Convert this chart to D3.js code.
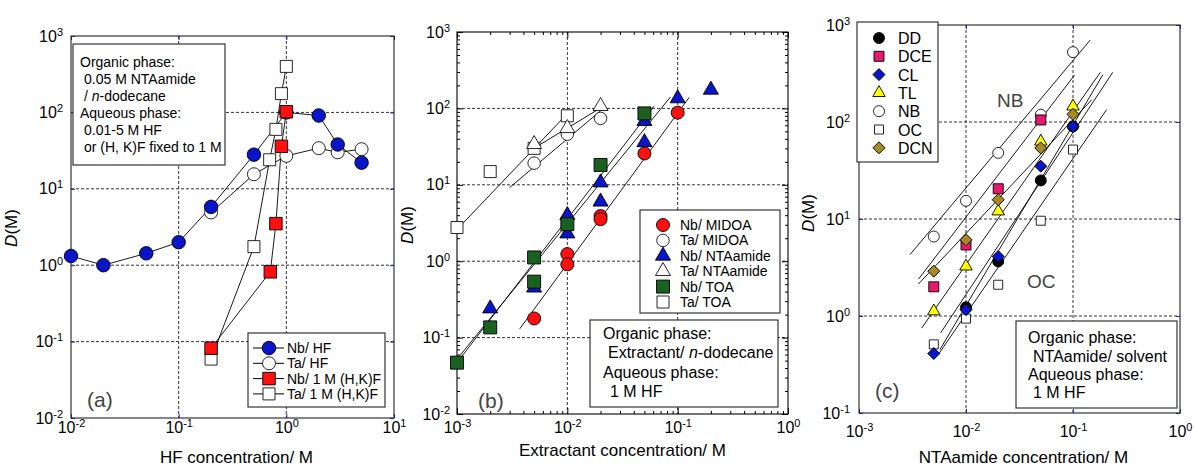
<!DOCTYPE html>
<html><head><meta charset="utf-8">
<script src="https://cdn.jsdelivr.net/npm/d3@7"></script>
<style>
body{margin:0;background:#fff;}
svg{font-family:"Liberation Sans",Arial,sans-serif;}
</style></head><body>
<svg width="1195" height="468"></svg>
<script>
"use strict";

var svg = d3.select("svg");

// ---- panel (a): D vs HF concentration
const aNbHfX = [0.01, 0.02, 0.05, 0.1, 0.2, 0.5, 1, 2, 3, 5],
      aNbHfD = [1.32, 1.0, 1.43, 2.0, 5.8, 28, 100, 91, 38, 22],
      aTaHfX = [0.2, 0.5, 1, 2, 3, 5],
      aTaHfD = [4.9, 15.5, 27, 34, 30, 33],
      aNbHkX = [0.2, 0.71, 0.8, 0.9, 1.0],
      aNbHkD = [0.082, 0.82, 3.5, 36, 102],
      aTaHkX = [0.2, 0.5, 0.7, 0.8, 0.9, 1.0],
      aTaHkD = [0.059, 1.75, 24, 60, 176, 400];

// ---- panel (b): D vs extractant concentration
const bNbMidoaX = [0.005, 0.01, 0.01, 0.02, 0.02, 0.05, 0.1],
      bNbMidoaD = [0.178, 1.24, 0.91, 3.9, 3.55, 25.7, 88],
      bTaMidoaX = [0.005, 0.01, 0.02],
      bTaMidoaD = [19.2, 46, 74],
      bNbNtaX = [0.002, 0.005, 0.01, 0.01, 0.02, 0.02, 0.05, 0.05, 0.1, 0.2],
      bNbNtaD = [0.24, 0.45, 2.3, 4.0, 6.0, 10.7, 36, 68, 135, 175],
      bTaNtaX = [0.005, 0.01, 0.02],
      bTaNtaD = [34, 55, 107],
      bNbToaX = [0.001, 0.002, 0.005, 0.005, 0.01, 0.02, 0.05],
      bNbToaD = [0.047, 0.136, 1.12, 0.54, 3.05, 18.2, 86],
      bTaToaX = [0.001, 0.002, 0.005, 0.01],
      bTaToaD = [2.76, 14.9, 30, 80];
// fitted lines, [x start, x end] / [D start, D end]
const bFitX = [[0.001, 0.0099], [0.0044, 0.022], [0.003, 0.02], [0.001, 0.061], [0.00106, 0.086], [0.0037, 0.127]],
      bFitD = [[2.6, 84], [27, 110], [9.2, 93], [0.047, 107], [0.058, 141], [0.13, 139]];

// ---- panel (c): D vs NTAamide concentration in various solvents
const cSolvents = ["DD", "DCE", "CL", "TL", "NB", "OC", "DCN"];
const cDDX = [0.01, 0.02, 0.05, 0.1],          cDDD = [1.23, 3.65, 25, 90],
      cDCEX = [0.005, 0.01, 0.02, 0.05],       cDCED = [2.0, 5.4, 20.5, 105],
      cCLX = [0.005, 0.01, 0.02, 0.05, 0.1],   cCLD = [0.41, 1.16, 4.1, 35, 90],
      cTLX = [0.005, 0.01, 0.02, 0.05, 0.1],   cTLD = [1.12, 3.25, 12, 63, 145],
      cNBX = [0.005, 0.01, 0.02, 0.05, 0.1],   cNBD = [6.6, 15.4, 48, 119, 525],
      cOCX = [0.005, 0.01, 0.02, 0.05, 0.1],   cOCD = [0.51, 0.94, 2.1, 9.6, 52],
      cDCNX = [0.005, 0.01, 0.02, 0.05, 0.1],  cDCND = [2.9, 6.1, 15.8, 54, 120];
const cFitX = [[0.003, 0.145], [0.0036, 0.103], [0.0036, 0.15], [0.00385, 0.18], [0.0057, 0.19], [0.0058, 0.235], [0.0055, 0.206]],
      cFitD = [[4.3, 700], [2.4, 303], [2.14, 170], [0.75, 325], [0.45, 307], [0.67, 325], [0.4, 134]];

const BLUE = "#0a14c8", RED = "#ff1010", GREEN = "#1a6020",
      PINK = "#e8196a", YELLOW = "#ffff00", OLIVE = "#a88a22";

function symbolPath(type, s) {
  if (type === "circle") return d3.symbol(d3.symbolCircle, Math.PI * s * s / 4)();
  if (type === "square") return d3.symbol(d3.symbolSquare, s * s)();
  if (type === "triangle") return d3.symbol(d3.symbolTriangle, s * s * Math.sqrt(3) / 4)();
  return d3.symbol(d3.symbolSquare, s * s / 2)(); // diamond, rotated below
}

function mark(g, type, cx, cy, s, fill) {
  g.append("path")
    .attr("d", symbolPath(type, s))
    .attr("transform", "translate(" + cx + "," + cy + ")" + (type === "diamond" ? " rotate(45)" : ""))
    .attr("fill", fill)
    .attr("stroke", fill === "#fff" ? "#111" : "#000")
    .attr("stroke-width", 0.9);
}

function supLabels(sel) {
  sel.selectAll(".tick text").each(function(d) {
    const e = Math.round(Math.log10(d)),
          t = d3.select(this).text(null);
    t.append("tspan").text("10");
    t.append("tspan").attr("dy", -6).attr("font-size", 11).text(e < 0 ? "-" + (-e) : e);
  });
}

function panel(o) {
  const x = d3.scaleLog().domain(o.xd).range([o.l, o.r]),
        y = d3.scaleLog().domain(o.yd).range([o.b, o.t]);
  const g = svg.append("g");
  const xMaj = d3.range(Math.log10(o.xd[0]), Math.log10(o.xd[1]) + 0.5).map(e => Math.pow(10, e)),
        yMaj = d3.range(Math.log10(o.yd[0]), Math.log10(o.yd[1]) + 0.5).map(e => Math.pow(10, e));

  // grid
  g.selectAll("line.gx").data(xMaj.slice(1, -1)).enter().append("line")
    .attr("x1", x).attr("x2", x).attr("y1", o.t).attr("y2", o.b)
    .attr("stroke", "#333").attr("stroke-dasharray", "3,2");
  g.selectAll("line.gy").data(yMaj.slice(1, -1)).enter().append("line")
    .attr("y1", y).attr("y2", y).attr("x1", o.l).attr("x2", o.r)
    .attr("stroke", "#333").attr("stroke-dasharray", "3,2");

  // inside ticks on four sides
  function ticks(vals, len, color) {
    const sides = [
      [d3.axisBottom(x), "translate(0," + o.b + ")"],
      [d3.axisTop(x), "translate(0," + o.t + ")"],
      [d3.axisLeft(y), "translate(" + o.l + ",0)"],
      [d3.axisRight(y), "translate(" + o.r + ",0)"]
    ];
    sides.forEach(function(s, i) {
      const v = i < 2 ? vals[0] : vals[1];
      g.append("g").attr("transform", s[1]).attr("color", color)
        .call(s[0].tickValues(v).tickSize(-len).tickFormat(""))
        .call(a => a.select(".domain").remove());
    });
  }
  if (o.minor) {
    const minors = function(maj) {
      const m = [];
      maj.slice(0, -1).forEach(p => { for (let k = 2; k < 10; k++) m.push(k * p); });
      return m;
    };
    ticks([minors(xMaj), minors(yMaj)], 3, "#000");
    ticks([xMaj, yMaj], 6, "#000");
  } else {
    ticks([xMaj, yMaj], 4, "#1a2ad8");
  }

  g.append("rect").attr("x", o.l).attr("y", o.t).attr("width", o.r - o.l).attr("height", o.b - o.t)
    .attr("fill", "none").attr("stroke", o.minor ? "#000" : "#222").attr("stroke-width", 1.1);

  // tick labels
  g.append("g").attr("transform", "translate(0," + o.b + ")")
    .call(d3.axisBottom(x).tickValues(xMaj).tickSize(0).tickPadding(o.xPad))
    .attr("font-size", 16).attr("font-family", null)
    .call(a => a.select(".domain").remove())
    .call(supLabels);
  g.append("g").attr("transform", "translate(" + o.l + ",0)")
    .call(d3.axisLeft(y).tickValues(yMaj).tickSize(0).tickPadding(o.yPad))
    .attr("font-size", 16).attr("font-family", null)
    .call(a => a.select(".domain").remove())
    .call(supLabels);

  // axis titles
  g.append("text").attr("x", (o.l + o.r) / 2 + o.titleDx).attr("y", o.titleY)
    .attr("text-anchor", "middle").attr("font-size", 17).text(o.xTitle);
  const yt = g.append("text").attr("transform", "translate(" + o.yTitleX + "," + o.yTitleY + ") rotate(-90)")
    .attr("text-anchor", "middle").attr("font-size", 17);
  yt.append("tspan").attr("font-style", "italic").text("D");
  yt.append("tspan").text("(M)");

  // panel letter
  g.append("text").attr("x", o.letter[0]).attr("y", o.letter[1]).attr("font-size", 21)
    .attr("fill", "#444").text(o.letter[2]);

  // connecting / fitted lines
  const lineG = g.append("g").attr("fill", "none").attr("stroke", "#000").attr("stroke-width", 0.9);
  o.lines.forEach(function(ln) {
    lineG.append("path").attr("d", d3.line().x(d => x(d[0])).y(d => y(d[1]))(d3.zip(ln[0], ln[1])));
  });

  // markers
  o.series.forEach(function(s) {
    s.xs.forEach((xv, i) => mark(g, s.type, x(xv), y(s.ds[i]), s.size, s.fill));
  });
  return g;
}

// ---------- (a)
const ga = panel({
  xd: [0.01, 10], yd: [0.01, 1000], l: 71, r: 394, t: 36, b: 418,
  minor: false, xPad: 4, yPad: 8,
  xTitle: "HF concentration/ M", titleY: 463, titleDx: 4, yTitleX: 17, yTitleY: 228,
  letter: [87, 407, "(a)"],
  lines: [[aTaHfX, aTaHfD], [aTaHkX, aTaHkD], [aNbHfX, aNbHfD], [aNbHkX, aNbHkD]],
  series: [
    {xs: aTaHfX, ds: aTaHfD, type: "circle", size: 13, fill: "#fff"},
    {xs: aTaHkX, ds: aTaHkD, type: "square", size: 12, fill: "#fff"},
    {xs: aNbHfX, ds: aNbHfD, type: "circle", size: 13.5, fill: BLUE},
    {xs: aNbHkX, ds: aNbHkD, type: "square", size: 12.5, fill: RED}
  ]
});

function box(g, x, y, w, h) {
  g.append("rect").attr("x", x).attr("y", y).attr("width", w).attr("height", h)
    .attr("fill", "#fff").attr("stroke", "#222").attr("stroke-width", 1.1);
}
function textLines(g, lines, size) {
  lines.forEach(function(l) {
    const t = g.append("text").attr("x", l[0]).attr("y", l[1]).attr("font-size", size);
    l[2].forEach(function(p) {
      t.append("tspan").attr("font-style", p[1] ? "italic" : null).text(p[0]);
    });
  });
}

box(ga, 73, 44, 152, 121);
textLines(ga, [
  [80, 66.5, [["Organic phase:"]]],
  [84, 84, [["0.05 M NTAamide"]]],
  [84, 101, [["/ "], ["n", true], ["-dodecane"]]],
  [80, 118, [["Aqueous phase:"]]],
  [84, 135, [["0.01-5 M HF"]]],
  [84, 152, [["or (H, K)F fixed to 1 M"]]]
], 14);

const aLegend = [
  ["Nb/ HF", "circle", BLUE, 13.5],
  ["Ta/ HF", "circle", "#fff", 13],
  ["Nb/ 1 M (H,K)F", "square", RED, 12.5],
  ["Ta/ 1 M (H,K)F", "square", "#fff", 12]
];
box(ga, 248, 333, 137, 74);
aLegend.forEach(function(e, i) {
  const cy = 348 + i * 15.3;
  ga.append("line").attr("x1", 253).attr("x2", 284).attr("y1", cy).attr("y2", cy).attr("stroke", "#000");
  mark(ga, e[1], 269, cy, e[3], e[2]);
  ga.append("text").attr("x", 287).attr("y", cy + 5).attr("font-size", 14).text(e[0]);
});

// ---------- (b)
const gb = panel({
  xd: [0.001, 1], yd: [0.01, 1000], l: 457, r: 788, t: 32, b: 414,
  minor: true, xPad: 8, yPad: 7,
  xTitle: "Extractant concentration/ M", titleY: 456, titleDx: 0, yTitleX: 413, yTitleY: 225,
  letter: [478, 408, "(b)"],
  lines: d3.zip(bFitX, bFitD),
  series: [
    {xs: bTaToaX, ds: bTaToaD, type: "square", size: 12, fill: "#fff"},
    {xs: bTaMidoaX, ds: bTaMidoaD, type: "circle", size: 12.5, fill: "#fff"},
    {xs: bTaNtaX, ds: bTaNtaD, type: "triangle", size: 15, fill: "#fff"},
    {xs: bNbNtaX, ds: bNbNtaD, type: "triangle", size: 15, fill: BLUE},
    {xs: bNbToaX, ds: bNbToaD, type: "square", size: 13, fill: GREEN},
    {xs: bNbMidoaX, ds: bNbMidoaD, type: "circle", size: 13, fill: RED}
  ]
});

const bLegend = [
  ["Nb/ MIDOA", "circle", RED, 13],
  ["Ta/ MIDOA", "circle", "#fff", 12.5],
  ["Nb/ NTAamide", "triangle", BLUE, 15],
  ["Ta/ NTAamide", "triangle", "#fff", 15],
  ["Nb/ TOA", "square", GREEN, 13],
  ["Ta/ TOA", "square", "#fff", 12]
];
box(gb, 640, 210, 140, 103);
bLegend.forEach(function(e, i) {
  const cy = 225 + i * 15.4;
  mark(gb, e[1], 663, cy, e[3], e[2]);
  gb.append("text").attr("x", 680).attr("y", cy + 5).attr("font-size", 14).text(e[0]);
});
box(gb, 590, 320, 188, 87);
textLines(gb, [
  [603, 338.5, [["Organic phase:"]]],
  [608, 358, [["Extractant/ "], ["n", true], ["-dodecane"]]],
  [603, 378, [["Aqueous phase:"]]],
  [610, 396.5, [["1 M HF"]]]
], 16);

// ---------- (c)
const cStyle = {
  DD: ["circle", "#000", 11], DCE: ["square", PINK, 10], CL: ["diamond", BLUE, 12],
  TL: ["triangle", YELLOW, 12.5], NB: ["circle", "#fff", 11], OC: ["square", "#fff", 9],
  DCN: ["diamond", OLIVE, 12]
};
const cData = {
  DD: [cDDX, cDDD], DCE: [cDCEX, cDCED], CL: [cCLX, cCLD], TL: [cTLX, cTLD],
  NB: [cNBX, cNBD], OC: [cOCX, cOCD], DCN: [cDCNX, cDCND]
};
const cOrder = ["DD", "OC", "NB", "DCE", "TL", "DCN", "CL"];
const gc = panel({
  xd: [0.001, 1], yd: [0.1, 1000], l: 859, r: 1180, t: 25, b: 413,
  minor: false, xPad: 13, yPad: 9,
  xTitle: "NTAamide concentration/ M", titleY: 463, titleDx: 4, yTitleX: 814, yTitleY: 213,
  letter: [875, 398, "(c)"],
  lines: d3.zip(cFitX, cFitD),
  series: cOrder.map(k => ({xs: cData[k][0], ds: cData[k][1], type: cStyle[k][0], size: cStyle[k][2], fill: cStyle[k][1]}))
});

gc.append("text").attr("x", 997).attr("y", 107).attr("font-size", 19).attr("fill", "#444").text("NB");
gc.append("text").attr("x", 1027).attr("y", 288).attr("font-size", 19).attr("fill", "#444").text("OC");

box(gc, 857, 22, 81, 140);
cSolvents.forEach(function(k, i) {
  const cy = 38 + i * 18.3, st = cStyle[k];
  mark(gc, st[0], 879, cy, st[2], st[1]);
  gc.append("text").attr("x", 898).attr("y", cy + 6).attr("font-size", 16).text(k);
});
box(gc, 1016, 321, 161, 87);
textLines(gc, [
  [1028, 343, [["Organic phase:"]]],
  [1033, 362, [["NTAamide/ solvent"]]],
  [1028, 380, [["Aqueous phase:"]]],
  [1033, 398, [["1 M HF"]]]
], 16);
</script>
</body></html>
